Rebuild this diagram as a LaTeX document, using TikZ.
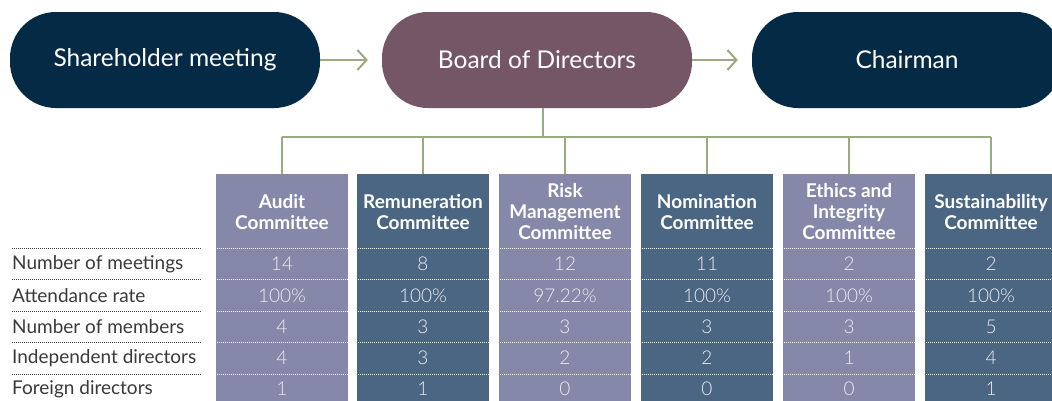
\documentclass[tikz,border=0pt]{standalone}
\usepackage{fontspec}
\setmainfont{Lato}
\newfontfamily\lightfont{Lato Light}
\usetikzlibrary{arrows.meta}
\definecolor{navy}{HTML}{052A45}
\definecolor{plum}{HTML}{745666}
\definecolor{lightcol}{HTML}{8588A8}
\definecolor{darkcol}{HTML}{4B6682}
\definecolor{olive}{HTML}{9AAB82}
\definecolor{labelgray}{HTML}{3A3A3A}
\definecolor{valgray}{HTML}{ECECF2}
\begin{document}
\begin{tikzpicture}[x=1pt,y=-1pt,
  pill/.style={rounded corners=46pt, minimum width=310pt, minimum height=96pt, inner sep=0pt,
    text=white, font=\fontsize{24.5}{28}\selectfont},
  conn/.style={draw=olive, line width=2pt},
  arr/.style={conn, -{Straight Barb[length=9pt,width=20pt,line width=2pt]}, shorten >=14pt},
  colbox/.style={minimum width=132pt, minimum height=240pt, inner sep=0pt, anchor=north},
  head/.style={text=white, font=\bfseries\fontsize{19}{21}\selectfont, align=center},
  val/.style={text=valgray, font=\lightfont\fontsize{19}{21}\selectfont},
  lab/.style={text=labelgray, font=\fontsize{19}{21}\selectfont, anchor=west, inner sep=0pt},
  ldot/.style={draw=labelgray, line width=0.9pt, dash pattern=on 0.9pt off 1.1pt},
  wdot/.style={draw=white, line width=0.9pt, dash pattern=on 0.9pt off 1.1pt}
]
\useasboundingbox (0,0) rectangle (1052,400);
\fill[white] (0,0) rectangle (1052,400);

% top row
\node[pill, fill=navy] (sh) at (165,60) {Shareholder meeting};
\node[pill, fill=plum] (bd) at (537,60) {Board of Directors};
\node[pill, fill=navy] (ch) at (907,60) {Chairman};
\draw[arr] (sh.east) -- (bd.west);
\draw[arr] (bd.east) -- (ch.west);

% columns
\node[colbox, fill=lightcol] (c1) at (282,174) {};
\node[colbox, fill=darkcol]  (c2) at (423,174) {};
\node[colbox, fill=lightcol] (c3) at (565,174) {};
\node[colbox, fill=darkcol]  (c4) at (707,174) {};
\node[colbox, fill=lightcol] (c5) at (849,174) {};
\node[colbox, fill=darkcol]  (c6) at (991,174) {};

% connectors
\coordinate (bus) at (543,137);
\coordinate (busL) at (282,137);
\coordinate (busR) at (991,137);
\draw[conn] ([xshift=6pt]bd.south) -- (bus);
\draw[conn] (busL) -- (busR);
\foreach \i in {1,...,6} {\draw[conn] (c\i.north |- bus) -- (c\i.north);}

% headers
\node[head] (h1) at (282,212) {Audit\\Committee};
\node[head] (h2) at (423,212) {Remuneration\\Committee};
\node[head] (h3) at (565,212) {Risk\\Management\\Committee};
\node[head] (h4) at (707,212) {Nomination\\Committee};
\node[head] (h5) at (849,212) {Ethics and\\Integrity\\Committee};
\node[head] (h6) at (991,212) {Sustainability\\Committee};

% dotted rules
\foreach \y in {248,279.5,311,342.5,374} {
  \draw[ldot] (12,\y) -- (201,\y);
  \foreach \i in {1,...,6} {\draw[wdot] ([xshift=1pt]c\i.west |- 0,\y) -- ([xshift=-1pt]c\i.east |- 0,\y);}
}

% row labels
\node[lab] (l1) at (12,264) {Number of meetings};
\node[lab] (l2) at (12,296) {Attendance rate};
\node[lab] (l3) at (12,327) {Number of members};
\node[lab] (l4) at (12,358) {Independent directors};
\node[lab] (l5) at (12,389) {Foreign directors};

% values
\foreach \x/\a/\b/\c/\d/\e [count=\i] in {282/14/100\%/4/4/1, 423/8/100\%/3/3/1, 565/12/97.22\%/3/2/0, 707/11/100\%/3/2/0, 849/2/100\%/3/1/0, 991/2/100\%/5/4/1} {
  \node[val] (v\i a) at (\x,264) {\a};
  \node[val] (v\i b) at (\x,296) {\b};
  \node[val] (v\i c) at (\x,327) {\c};
  \node[val] (v\i d) at (\x,358) {\d};
  \node[val] (v\i e) at (\x,389) {\e};
}
\end{tikzpicture}
\end{document}
